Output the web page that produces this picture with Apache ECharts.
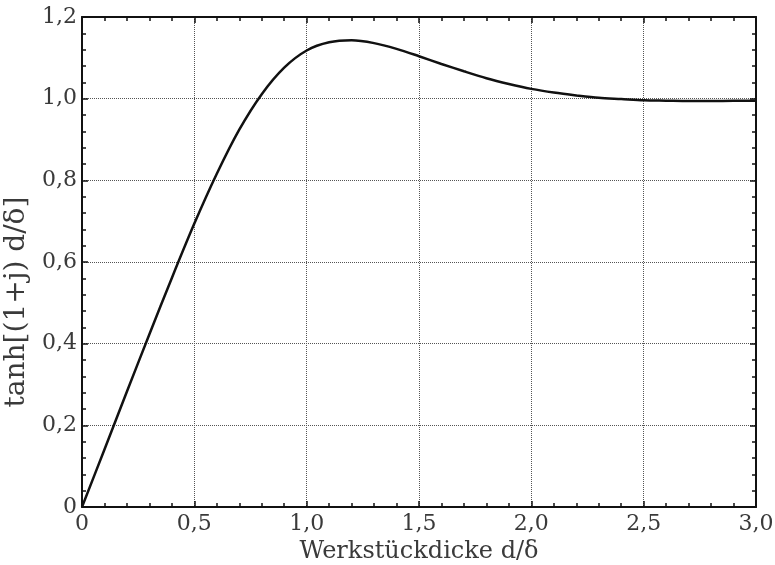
<!DOCTYPE html>
<html>
<head>
<meta charset="utf-8">
<script src="https://cdn.jsdelivr.net/npm/echarts@6/dist/echarts.min.js"></script>
<style>
  html, body { margin: 0; padding: 0; background: #fff; }
  #chart { width: 775px; height: 565px; }
</style>
</head>
<body>
<div id="chart"></div>
<script>
// Werte
const dValues = [0, 0.1, 0.2, 0.3, 0.4, 0.5, 0.6, 0.7, 0.8, 0.9, 1.0, 1.1, 1.2, 1.3, 1.4, 1.5,
  1.6, 1.7, 1.8, 1.9, 2.0, 2.1, 2.2, 2.3, 2.4, 2.5, 2.6, 2.7, 2.8, 2.9, 3.0];
const tanhValues = [0, 0.141, 0.283, 0.423, 0.561, 0.694, 0.816, 0.924, 1.011, 1.076, 1.118,
  1.138, 1.143, 1.136, 1.122, 1.104, 1.085, 1.067, 1.050, 1.036, 1.024, 1.015, 1.008, 1.002,
  0.999, 0.996, 0.995, 0.994, 0.994, 0.995, 0.995];
const xTickLabels = ['0', '0,5', '1,0', '1,5', '2,0', '2,5', '3,0'];
const yTickLabels = ['0', '0,2', '0,4', '0,6', '0,8', '1,0', '1,2'];

const chart = echarts.init(document.getElementById('chart'));

const font = 'DejaVu Serif';
const textColor = '#3a3a3a';

const axisLine = { show: true, onZero: false, lineStyle: { color: '#111', width: 2 } };
const axisTick = { show: true, inside: true, length: 6, lineStyle: { color: '#111', width: 1.5 } };
const minorTick = { show: true, splitNumber: 5, length: 4, lineStyle: { color: '#111', width: 1.5 } };
const splitLine = { show: true, lineStyle: { color: '#555', width: 1, type: [1, 1] } };

const option = {
  backgroundColor: '#fff',
  animation: false,
  grid: { left: 82, right: 19, top: 17, bottom: 58, containLabel: false, outerBoundsMode: 'none' },
  xAxis: [
    {
      type: 'value',
      min: 0,
      max: 3,
      interval: 0.5,
      name: 'Werkstückdicke d/δ',
      nameLocation: 'middle',
      nameGap: 30,
      nameTextStyle: { fontFamily: font, fontSize: 24, color: textColor },
      axisLine: axisLine,
      axisTick: axisTick,
      minorTick: minorTick,
      splitLine: splitLine,
      axisLabel: {
        fontFamily: font, fontSize: 22, color: textColor, margin: 6,
        formatter: v => xTickLabels[Math.round(v / 0.5)]
      }
    },
    {
      type: 'value',
      position: 'top',
      min: 0,
      max: 3,
      interval: 0.5,
      axisLine: axisLine,
      axisTick: axisTick,
      minorTick: minorTick,
      splitLine: { show: false },
      axisLabel: { show: false }
    }
  ],
  yAxis: [
    {
      type: 'value',
      min: 0,
      max: 1.2,
      interval: 0.2,
      name: 'tanh[(1+j) d/δ]',
      nameLocation: 'middle',
      nameGap: 40,
      nameRotate: 90,
      nameTextStyle: { fontFamily: font, fontSize: 28, color: textColor, padding: [0, 80, 0, 0] },
      axisLine: axisLine,
      axisTick: axisTick,
      minorTick: minorTick,
      splitLine: splitLine,
      axisLabel: {
        fontFamily: font, fontSize: 22, color: textColor, margin: 5,
        formatter: v => yTickLabels[Math.round(v / 0.2)]
      }
    },
    {
      type: 'value',
      position: 'right',
      min: 0,
      max: 1.2,
      interval: 0.2,
      axisLine: axisLine,
      axisTick: axisTick,
      minorTick: minorTick,
      splitLine: { show: false },
      axisLabel: { show: false }
    }
  ],
  series: [
    {
      type: 'line',
      xAxisIndex: 0,
      yAxisIndex: 0,
      data: dValues.map((d, i) => [d, tanhValues[i]]),
      smooth: 0.3,
      showSymbol: false,
      lineStyle: { color: '#111', width: 2.5 }
    }
  ]
};

chart.setOption(option);
</script>
</body>
</html>
